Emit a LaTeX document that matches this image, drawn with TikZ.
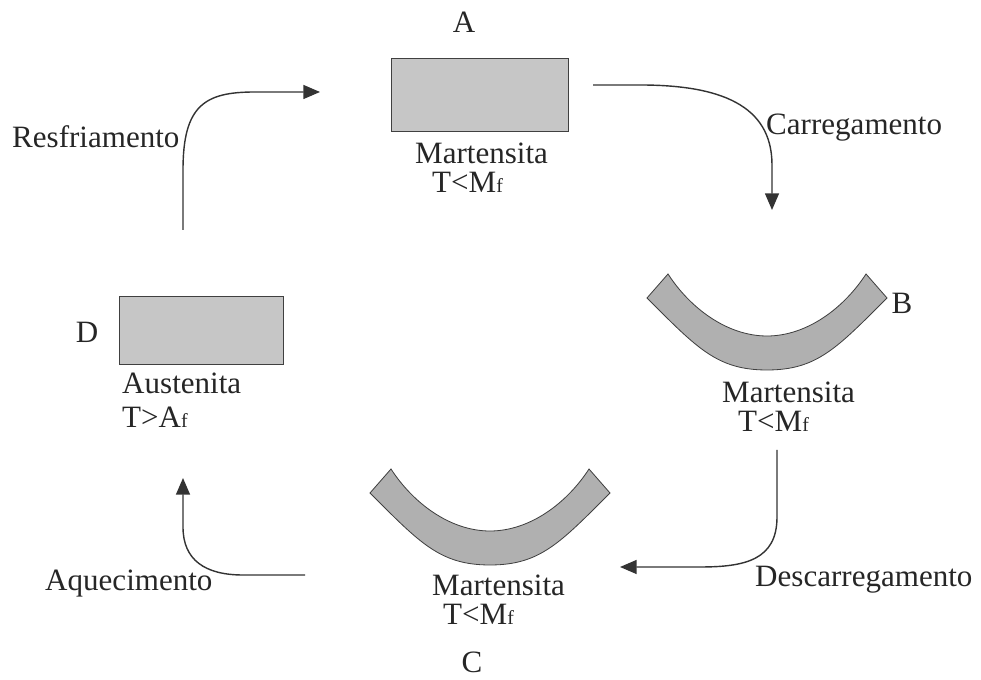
\documentclass[tikz,border=0pt]{standalone}
\usepackage{fontspec}
\setmainfont{Liberation Serif}
\usetikzlibrary{arrows.meta}

\newcommand{\lowf}{{\fontsize{17}{17}\selectfont f}}

\tikzset{
  block/.style={draw=black!75, fill=gray!45, line width=0.7pt, inner sep=0pt},
  bar/.style={draw=black!75, fill=gray!62, line width=0.7pt},
  flow/.style={draw=black!80, line width=1.2pt, -{Triangle[length=0.5cm,width=0.42cm]}},
  lbl/.style={inner sep=0pt, text=black!85, font=\fontsize{26.5}{32}\selectfont},
  bentbar/.pic={
    \draw[bar] (-120,72) .. controls (-70,22) and (-50,0) .. (0,0)
      .. controls (50,0) and (70,22) .. (120,72) -- (99,96)
      .. controls (77,62) and (40,34) .. (0,34)
      .. controls (-40,34) and (-77,62) .. (-99,96) -- cycle;
  }
}

\begin{document}
\begin{tikzpicture}[x=0.03cm, y=0.03cm]
  \useasboundingbox (0,0) rectangle (981,680);

  % samples
  \node[block, minimum width=5.31cm, minimum height=2.19cm] (blockA) at (479.5,585.5) {};
  \node[block, minimum width=4.92cm, minimum height=2.04cm] (blockD) at (201,350) {};
  \pic (barB) at (767,310) {bentbar};
  \pic (barC) at (490,115) {bentbar};

  % letters
  \node[lbl] (lA) at (464,658) {A};
  \node[lbl] (lB) at (902,377) {B};
  \node[lbl] (lC) at (472,18) {C};
  \node[lbl] (lD) at (87,348) {D};

  % phases
  \node[lbl, anchor=west] (phaseA) at (415,527) {Martensita};
  \node[lbl, anchor=west] (tempA) at (432,498) {T<M\lowf};
  \node[lbl, anchor=west] (phaseB) at (722,287.5) {Martensita};
  \node[lbl, anchor=west] (tempB) at (738,258.5) {T<M\lowf};
  \node[lbl, anchor=west] (phaseC) at (432,95) {Martensita};
  \node[lbl, anchor=west] (tempC) at (443,66) {T<M\lowf};
  \node[lbl, anchor=west] (phaseD) at (122,297) {Austenita};
  \node[lbl, anchor=west] (tempD) at (122,263) {T>A\lowf};

  % steps
  \node[lbl, anchor=west] (load) at (766,552) {Carregamento};
  \node[lbl, anchor=west] (unload) at (755,100) {Descarregamento};
  \node[lbl, anchor=west] (heat) at (45,96) {Aquecimento};
  \node[lbl, anchor=west] (cool) at (12,543) {Resfriamento};

  \coordinate (loadS) at (593,595);
  \coordinate (loadE) at (772,470);
  \coordinate (unloadS) at (777,230);
  \coordinate (unloadE) at (620,113);
  \coordinate (heatS) at (305,105);
  \coordinate (heatE) at (183,202);
  \coordinate (coolS) at (183,450);
  \coordinate (coolE) at (320,588);

  \draw[flow] (loadS) -- (640,595) .. controls (720,595) and (772,575) .. (772,515) -- (loadE);
  \draw[flow] (unloadS) -- (777,163) .. controls (777,120) and (745,113) .. (700,113) -- (unloadE);
  \draw[flow] (heatS) -- (243,105) .. controls (205,105) and (183,120) .. (183,153) -- (heatE);
  \draw[flow] (coolS) -- (183,510) .. controls (183,575) and (205,588) .. (255,588) -- (coolE);
\end{tikzpicture}
\end{document}
